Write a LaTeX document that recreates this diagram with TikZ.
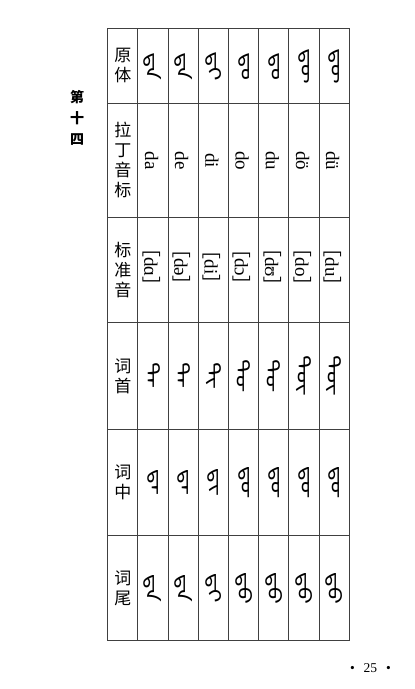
\documentclass[tikz,border=0pt]{standalone}
\usepackage{fontspec}
\usepackage{graphicx}
\setmainfont{Liberation Serif}
\newfontfamily\cjk{Noto Sans CJK SC}
\newfontfamily\mongfont[Script=Mongolian]{Noto Sans Mongolian}
\usepackage{tikz}
\tikzstyle{grid} = [draw=black!75, line width=1pt]
\tikzstyle{head} = [align=center, inner sep=0pt, font=\cjk\fontsize{17}{20}\selectfont]
\tikzstyle{mong} = [rotate=-90, inner sep=0pt, font=\mongfont\fontsize{21}{21}\selectfont]
\tikzstyle{latin} = [rotate=-90, inner sep=0pt, font=\fontsize{19}{19}\selectfont]
\tikzstyle{ipa} = [rotate=-90, inner sep=0pt, font=\fontsize{19}{19}\selectfont]
\newcommand{\lb}{{\cjk ［}}
\newcommand{\rb}{{\cjk ］}}
\newcommand{\zwj}{^^^^200d}
\newcommand{\mg}[1]{\scalebox{1.2}[0.85]{#1}}

\begin{document}
\begin{tikzpicture}[x=1pt, y=-1pt]
    \useasboundingbox (0,0) rectangle (415,689);
    % table frame
    \draw [grid] (107.7,28.3) rectangle (349.3,640.5);
    \draw [grid] (137.9,28.3) -- (137.9,640.5);
    \draw [grid] (168.1,28.3) -- (168.1,640.5);
    \draw [grid] (198.3,28.3) -- (198.3,640.5);
    \draw [grid] (228.5,28.3) -- (228.5,640.5);
    \draw [grid] (258.7,28.3) -- (258.7,640.5);
    \draw [grid] (288.9,28.3) -- (288.9,640.5);
    \draw [grid] (319.1,28.3) -- (319.1,640.5);
    \draw [grid] (107.7,103.3) -- (349.3,103.3);
    \draw [grid] (107.7,217.3) -- (349.3,217.3);
    \draw [grid] (107.7,322.7) -- (349.3,322.7);
    \draw [grid] (107.7,429) -- (349.3,429);
    \draw [grid] (107.7,535) -- (349.3,535);

    % side title and page number
    \node (title) [align=center, inner sep=0pt, font=\cjk\bfseries\fontsize{14}{21}\selectfont] at (77,118) {第\\十\\四};
    \node (page) [inner sep=0pt, font=\fontsize{13.5}{13.5}\selectfont] at (370.5,668.5) {•\hspace{9pt}25\hspace{9pt}•};

    % row heads
    \node (h1) [head] at (122.8,65.8) {原\\体};
    \node (h2) [head] at (122.8,160.3) {拉\\丁\\音\\标};
    \node (h3) [head] at (122.8,270) {标\\准\\音};
    \node (h4) [head] at (122.8,375.9) {词\\首};
    \node (h5) [head] at (122.8,482) {词\\中};
    \node (h6) [head] at (122.8,587.8) {词\\尾};

    % original forms
    \node (a1) [mong] at (153.0,66.5) {\mg{ᠳᠠ}};
    \node (b1) [mong] at (183.2,66.5) {\mg{ᠳᠡ}};
    \node (c1) [mong] at (213.4,66.5) {\mg{ᠳᠢ}};
    \node (d1) [mong] at (243.6,66.5) {\mg{ᠳᠣ}};
    \node (e1) [mong] at (273.8,66.5) {\mg{ᠳᠤ}};
    \node (f1) [mong] at (304.0,66.5) {\mg{ᠳᠥ}};
    \node (g1) [mong] at (334.2,66.5) {\mg{ᠳᠦ}};

    % latin transcription
    \node (a2) [latin] at (151.5,160.5) {da};
    \node (b2) [latin] at (181.7,160.5) {de};
    \node (c2) [latin] at (211.9,160.5) {di};
    \node (d2) [latin] at (242.1,160.5) {do};
    \node (e2) [latin] at (272.3,160.5) {du};
    \node (f2) [latin] at (302.5,160.5) {dö};
    \node (g2) [latin] at (332.7,160.5) {dü};

    % standard sound
    \node (a3) [ipa] at (151.5,267) {\lb dɑ\rb};
    \node (b3) [ipa] at (181.7,267) {\lb də\rb};
    \node (c3) [ipa] at (211.9,267) {\lb di\rb};
    \node (d3) [ipa] at (242.1,267) {\lb dɔ\rb};
    \node (e3) [ipa] at (272.3,267) {\lb dʊ\rb};
    \node (f3) [ipa] at (302.5,267) {\lb do\rb};
    \node (g3) [ipa] at (332.7,267) {\lb du\rb};

    % initial forms
    \node (a4) [mong] at (153.0,375) {\mg{ᠳᠠ\zwj}};
    \node (b4) [mong] at (183.2,375) {\mg{ᠳᠡ\zwj}};
    \node (c4) [mong] at (213.4,375) {\mg{ᠳᠢ\zwj}};
    \node (d4) [mong] at (243.6,375) {\mg{ᠳᠣ\zwj}};
    \node (e4) [mong] at (273.8,375) {\mg{ᠳᠤ\zwj}};
    \node (f4) [mong] at (304.0,375) {\mg{ᠳᠥ\zwj}};
    \node (g4) [mong] at (334.2,375) {\mg{ᠳᠦ\zwj}};

    % medial forms
    \node (a5) [mong] at (153.0,482) {\mg{\zwj ᠳᠠ\zwj}};
    \node (b5) [mong] at (183.2,482) {\mg{\zwj ᠳᠡ\zwj}};
    \node (c5) [mong] at (213.4,482) {\mg{\zwj ᠳᠢ\zwj}};
    \node (d5) [mong] at (243.6,482) {\mg{\zwj ᠳᠣ\zwj}};
    \node (e5) [mong] at (273.8,482) {\mg{\zwj ᠳᠤ\zwj}};
    \node (f5) [mong] at (304.0,482) {\mg{\zwj ᠳᠥ\zwj}};
    \node (g5) [mong] at (334.2,482) {\mg{\zwj ᠳᠦ\zwj}};

    % final forms
    \node (a6) [mong] at (153.0,589) {\mg{\zwj ᠳᠠ}};
    \node (b6) [mong] at (183.2,589) {\mg{\zwj ᠳᠡ}};
    \node (c6) [mong] at (213.4,589) {\mg{\zwj ᠳᠢ}};
    \node (d6) [mong] at (243.6,589) {\mg{\zwj ᠳᠣ}};
    \node (e6) [mong] at (273.8,589) {\mg{\zwj ᠳᠤ}};
    \node (f6) [mong] at (304.0,589) {\mg{\zwj ᠳᠥ}};
    \node (g6) [mong] at (334.2,589) {\mg{\zwj ᠳᠦ}};
\end{tikzpicture}
\end{document}
